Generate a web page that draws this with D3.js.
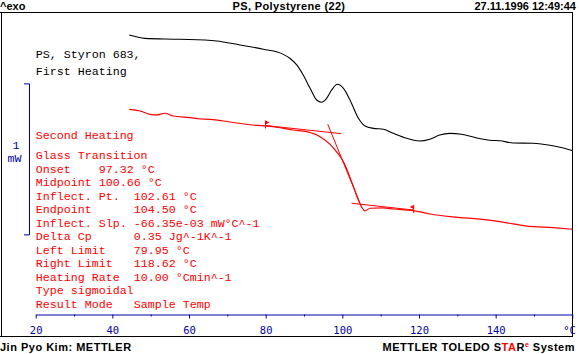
<!DOCTYPE html>
<html>
<head>
<meta charset="utf-8">
<script src="https://cdn.jsdelivr.net/npm/d3@7"></script>
<style>
  body { margin: 0; background: #fff; }
  svg { display: block; }
</style>
</head>
<body>
<div id="chart"></div>
<script>
// first heating (black), temperature in °C, heat flow in mW
const firstTemp = [44.4, 48.5, 57.6, 67.2, 73.3, 79.4, 84.6, 86.3, 88.1, 89.8, 91.6, 93.3, 94.6, 95.9, 97.2, 98.7,
  100.3, 102.0, 104.2, 105.9, 108.1, 110.7, 113.3, 116.8, 120.2, 122.8, 125.4, 128.0, 131.1, 135.1, 138.5,
  141.1, 144.6, 149.8, 153.3, 156.8, 160];
const firstHeat = [0.354, 0.332, 0.326, 0.315, 0.288, 0.260, 0.226, 0.200, 0.156, 0.089, 0.001, -0.076, -0.091,
  -0.065, -0.010, 0.028, 0.001, -0.076, -0.197, -0.248, -0.264, -0.270, -0.297, -0.330, -0.348, -0.336, -0.308,
  -0.297, -0.303, -0.328, -0.343, -0.346, -0.361, -0.363, -0.372, -0.389, -0.410];

// second heating (red)
const secondTemp = [44.4, 47.2, 49.8, 51.6, 53.7, 55.9, 60.3, 62.9, 65.5, 70.7, 75.9, 79.8, 83.7, 87.2, 90.7,
  94.2, 96.8, 98.5, 100.3, 101.6, 102.9, 104.2, 105.1, 105.9, 107.2, 110.7, 113.3, 118.5, 122.9, 128.1, 135.1,
  141.1, 148.1, 155.0, 160];
const secondHeat = [-0.138, -0.149, -0.171, -0.175, -0.164, -0.182, -0.193, -0.202, -0.204, -0.222, -0.240,
  -0.248, -0.260, -0.275, -0.286, -0.319, -0.370, -0.419, -0.485, -0.562, -0.650, -0.738, -0.787, -0.811,
  -0.793, -0.791, -0.798, -0.809, -0.831, -0.849, -0.864, -0.882, -0.911, -0.922, -0.932];

// evaluation construction lines: [temp1, heat1, temp2, heat2]
const leftBaseline = [79.95, -0.245, 99.7, -0.299];
const inflectTangent = [96.2, -0.237, 104.6, -0.760];
const rightBaseline = [102.4, -0.760, 118.62, -0.805];
const limitTemps = [79.95, 118.62];
const limitHeats = [-0.245, -0.805];

// scale bar
const barTop = 0.034;
const barSize = 1;

const tickValues = [20, 30, 40, 50, 60, 70, 80, 90, 100, 110, 120, 130, 140, 150, 160];
const tickLabels = {20: '20', 40: '40', 60: '60', 80: '80', 100: '100', 120: '120', 140: '140', 160: '°C'};

const resultLabels = ['Onset', 'Midpoint', 'Inflect. Pt.', 'Endpoint', 'Inflect. Slp.', 'Delta Cp',
  'Left Limit', 'Right Limit', 'Heating Rate', 'Type sigmoidal', 'Result Mode'];
const resultValues = ['97.32 °C', '100.66 °C', '102.61 °C', '104.50 °C', '-66.35e-03 mW°C^-1',
  '0.35 Jg^-1K^-1', '79.95 °C', '118.62 °C', '10.00 °Cmin^-1', '', 'Sample Temp'];
const resultColumns = [9, 9, 14, 14, 14, 14, 14, 14, 14, 14, 14];

const width = 579, height = 354;
const blue = '#0000a8';
const mono = '"Liberation Mono", "DejaVu Sans Mono", monospace';
const sans = '"Liberation Sans", Arial, sans-serif';

const svg = d3.select('#chart')
              .append('svg')
              .attr('width', width)
              .attr('height', height);

const x = d3.scaleLinear().domain([20, 160]).range([35.7, 572.3]);
const y = d3.scaleLinear().domain([0.5, -1.5]).range([13, 315]);

// frame
svg.append('line').attr('x1', 0).attr('x2', 573).attr('y1', 12.5).attr('y2', 12.5).attr('stroke', '#000');
svg.append('line').attr('x1', 0).attr('x2', 573).attr('y1', 336.5).attr('y2', 336.5).attr('stroke', '#000');
svg.append('line').attr('x1', 1.5).attr('x2', 1.5).attr('y1', 12.5).attr('y2', 336.5).attr('stroke', '#000');
svg.append('line').attr('x1', 572.5).attr('x2', 572.5).attr('y1', 12.5).attr('y2', 336.5).attr('stroke', '#000');

// header
const header = svg.append('g')
                  .attr('font-family', sans)
                  .attr('font-weight', 'bold')
                  .attr('font-size', 11);
header.append('text').attr('x', 0).attr('y', 9.5).text('^exo');
header.append('text').attr('x', 289).attr('y', 9.5).attr('text-anchor', 'middle')
      .attr('letter-spacing', 0.35).text('PS, Polystyrene (22)');
header.append('text').attr('x', 576).attr('y', 9.5).attr('text-anchor', 'end')
      .text('27.11.1996 12:49:44');

// footer
const footer = svg.append('g')
                  .attr('font-family', sans)
                  .attr('font-weight', 'bold')
                  .attr('font-size', 11)
                  .attr('letter-spacing', 0.5);
footer.append('text').attr('x', 0).attr('y', 350.5).text('Jin Pyo Kim: METTLER');
const brand = footer.append('text').attr('x', 575).attr('y', 350.5).attr('text-anchor', 'end');
brand.append('tspan').text('METTLER TOLEDO S');
brand.append('tspan').attr('fill', 'red').text('TA');
brand.append('tspan').text('R');
brand.append('tspan').attr('fill', 'red').attr('font-size', 7).attr('dy', -4).text('e');
brand.append('tspan').attr('dy', 4).text(' System');

// x axis
const xAxis = d3.axisBottom(x)
                .tickValues(tickValues)
                .tickSize(4)
                .tickSizeOuter(0)
                .tickFormat(d => tickLabels[d] || '');

const axisG = svg.append('g')
                 .attr('transform', 'translate(0, 314.5)')
                 .call(xAxis);
axisG.select('.domain').attr('stroke', blue);
axisG.selectAll('.tick line')
     .attr('stroke', blue)
     .attr('y2', d => d % 20 === 0 ? 4 : 2);
axisG.selectAll('.tick text')
     .attr('fill', blue)
     .attr('font-family', '"DejaVu Sans Mono", monospace')
     .attr('font-size', 10.5)
     .attr('dy', null)
     .attr('y', 19)
     .attr('text-anchor', d => d === 160 ? 'end' : 'middle')
     .attr('x', d => d === 160 ? 3 : 0);

// scale bar
const bar = svg.append('g').attr('stroke', blue).attr('fill', 'none');
bar.append('path')
   .attr('d', `M24,${y(barTop) + 0.5}H29.5V${y(barTop - barSize) + 0.5}H24`);
svg.append('text').attr('x', 16).attr('y', 149).attr('text-anchor', 'middle')
   .attr('fill', blue).attr('font-family', mono).attr('font-size', 11.67).text('1');
svg.append('text').attr('x', 14.5).attr('y', 162).attr('text-anchor', 'middle')
   .attr('fill', blue).attr('font-family', mono).attr('font-size', 11.67).text('mW');

// curves
const line = d3.line()
               .x(d => x(d[0]))
               .y(d => y(d[1]))
               .curve(d3.curveMonotoneX);

svg.append('path')
   .datum(firstTemp.map((t, i) => [t, firstHeat[i]]))
   .attr('d', line)
   .attr('fill', 'none')
   .attr('stroke', '#000')
   .attr('stroke-width', 1.1);

svg.append('path')
   .datum(secondTemp.map((t, i) => [t, secondHeat[i]]))
   .attr('d', line)
   .attr('fill', 'none')
   .attr('stroke', 'red')
   .attr('stroke-width', 1.2);

// construction lines
[leftBaseline, inflectTangent, rightBaseline].forEach(s => {
  svg.append('line')
     .attr('x1', x(s[0])).attr('y1', y(s[1]))
     .attr('x2', x(s[2])).attr('y2', y(s[3]))
     .attr('stroke', 'red')
     .attr('stroke-width', 1);
});

// limit flags
limitTemps.forEach((t, i) => {
  const fx = x(t), fy = y(limitHeats[i]);
  const dir = i === 0 ? 1 : -1;
  svg.append('line')
     .attr('x1', fx).attr('x2', fx)
     .attr('y1', fy - 5).attr('y2', fy + 3)
     .attr('stroke', 'red');
  svg.append('path')
     .attr('d', `M${fx},${fy - 5}L${fx + dir * 4},${fy - 3}L${fx},${fy - 1}Z`)
     .attr('fill', 'red');
});

// annotations
const note = svg.append('g').attr('font-family', mono).attr('font-size', 11.67);
note.append('text').attr('x', 35.7).attr('y', 57.5).text('PS, Styron 683,');
note.append('text').attr('x', 35.7).attr('y', 74.5).text('First Heating');

const res = note.append('g').attr('fill', 'red');
res.append('text').attr('x', 35.7).attr('y', 139).text('Second Heating');
res.append('text').attr('x', 35.7).attr('y', 159).text('Glass Transition');
resultLabels.forEach((label, i) => {
  const by = 172.5 + i * 13.55;
  res.append('text').attr('x', 35.7).attr('y', by).text(label);
  if (resultValues[i]) {
    res.append('text').attr('x', 35.7 + resultColumns[i] * 7).attr('y', by).text(resultValues[i]);
  }
});
</script>
</body>
</html>
